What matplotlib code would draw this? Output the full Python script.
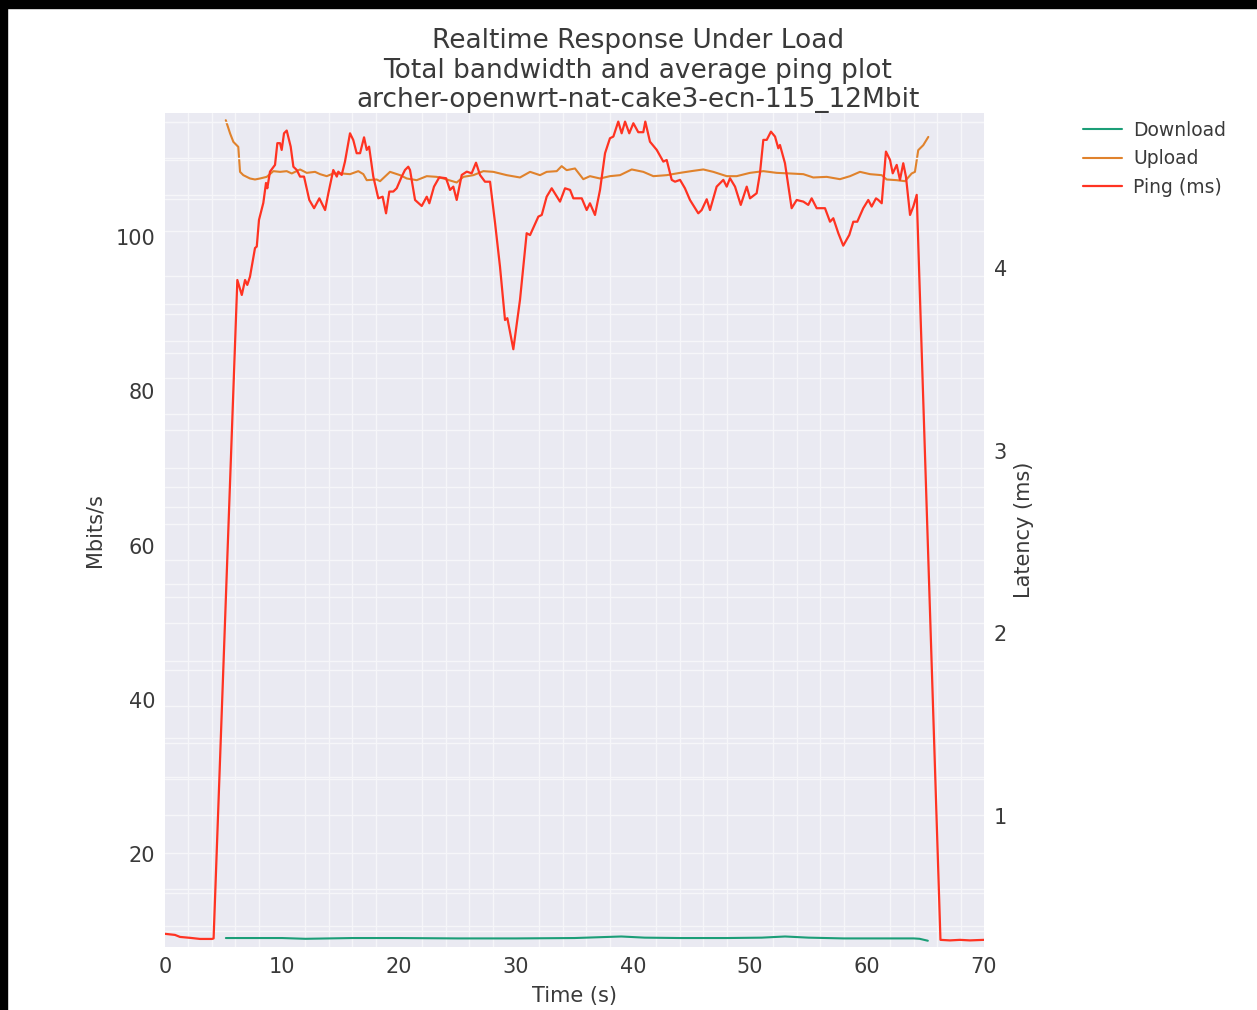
import matplotlib
matplotlib.use("Agg")
import matplotlib.pyplot as plt
import matplotlib.patches as mpatches
from matplotlib.ticker import MultipleLocator
import seaborn as sns

sns.set_style("darkgrid")
plt.rcParams['font.family'] = ['DejaVu Sans']

# ping samples (seconds, ms)
ping_t = [0.0, 0.85, 1.28, 2.14, 2.99, 4.02, 4.15,
          6.18, 6.56, 6.84, 7.03, 7.26, 7.69, 7.84, 8.03, 8.40, 8.63, 8.74, 8.97,
          9.40, 9.60, 9.83, 9.97, 10.17, 10.40, 10.74, 10.97, 11.26, 11.54, 11.88,
          12.33, 12.74, 13.19, 13.68, 13.96, 14.38, 14.68, 14.81, 15.10, 15.38,
          15.81, 16.09, 16.38, 16.67, 17.01, 17.24, 17.44, 17.80, 18.23, 18.60,
          18.89, 19.17, 19.51, 19.80, 20.23, 20.51, 20.79, 20.94, 21.37, 21.94,
          22.37, 22.59, 22.99, 23.44, 24.02, 24.36, 24.64, 24.93, 25.36, 25.79,
          26.21, 26.58, 26.92, 27.35, 27.78, 28.21, 28.63, 29.06, 29.26, 29.77,
          30.34, 30.91, 31.20, 31.91, 32.20, 32.62, 33.05, 33.76, 34.19, 34.62,
          34.90, 35.62, 36.04, 36.32, 36.75, 37.18, 37.61, 38.03, 38.32, 38.74,
          39.03, 39.32, 39.68, 40.03, 40.45, 40.88, 41.05, 41.45, 42.03, 42.59,
          42.88, 43.31, 43.59, 44.02, 44.44, 44.87, 45.58, 45.87, 46.30, 46.58,
          47.15, 47.72, 48.01, 48.29, 48.72, 49.21, 49.72, 50.00, 50.57, 50.85,
          51.14, 51.43, 51.79, 52.14, 52.42, 52.56, 52.99, 53.56, 53.99, 54.56,
          54.98, 55.27, 55.70, 56.41, 56.84, 57.12, 57.55, 57.97, 58.49, 58.83,
          59.17, 59.68, 60.11, 60.40, 60.77, 60.97, 61.26, 61.62, 61.97, 62.20,
          62.54, 62.82, 63.10, 63.33, 63.68, 63.96, 64.25,
          66.28, 67.09, 67.95, 68.80, 70.0]
ping_ms = [0.355, 0.349, 0.338, 0.333, 0.327, 0.327, 0.330,
           3.934, 3.852, 3.934, 3.907, 3.952, 4.109, 4.117, 4.263, 4.356, 4.465, 4.436, 4.527,
           4.564, 4.683, 4.683, 4.646, 4.737, 4.752, 4.664, 4.554, 4.536, 4.500, 4.500,
           4.372, 4.327, 4.381, 4.317, 4.409, 4.536, 4.500, 4.527, 4.509, 4.582,
           4.737, 4.700, 4.628, 4.628, 4.715, 4.646, 4.664, 4.500, 4.381, 4.390,
           4.299, 4.418, 4.418, 4.436, 4.500, 4.536, 4.554, 4.536, 4.372, 4.339,
           4.390, 4.354, 4.445, 4.496, 4.491, 4.427, 4.445, 4.372, 4.509, 4.527,
           4.518, 4.576, 4.509, 4.472, 4.472, 4.245, 4.007, 3.715, 3.725, 3.555,
           3.825, 4.190, 4.180, 4.281, 4.290, 4.390, 4.436, 4.363, 4.436, 4.427,
           4.381, 4.381, 4.317, 4.354, 4.290, 4.427, 4.628, 4.710, 4.719, 4.801,
           4.737, 4.801, 4.737, 4.792, 4.743, 4.743, 4.801, 4.691, 4.646, 4.582,
           4.591, 4.482, 4.472, 4.482, 4.436, 4.372, 4.299, 4.317, 4.376, 4.317,
           4.445, 4.482, 4.445, 4.491, 4.445, 4.345, 4.445, 4.381, 4.409, 4.518,
           4.701, 4.701, 4.746, 4.719, 4.655, 4.673, 4.573, 4.327, 4.372, 4.363,
           4.345, 4.381, 4.327, 4.327, 4.253, 4.272, 4.190, 4.122, 4.181, 4.253,
           4.253, 4.327, 4.372, 4.336, 4.381, 4.372, 4.354, 4.637, 4.591, 4.518,
           4.564, 4.482, 4.573, 4.500, 4.290, 4.336, 4.400,
           0.322, 0.319, 0.322, 0.319, 0.322]

# upload throughput (seconds, Mbit/s)
up_t = [5.19, 5.56, 5.84, 6.26, 6.41, 6.69, 7.26, 7.69, 8.12, 8.69, 9.26, 9.83,
        10.40, 10.83, 11.54, 12.11, 12.82, 13.25, 13.82, 14.38, 15.10, 15.81,
        16.52, 16.95, 17.24, 18.09, 18.38, 19.23, 20.09, 20.66, 21.51, 22.37,
        23.22, 23.79, 24.93, 25.50, 26.35, 27.21, 28.06, 29.21, 30.34, 31.20,
        32.05, 32.62, 33.48, 33.90, 34.33, 35.04, 35.75, 36.32, 37.18, 38.03,
        38.89, 39.89, 40.88, 41.74, 42.88, 44.02, 45.15, 46.01, 46.86, 48.01,
        48.86, 50.00, 51.14, 52.28, 53.42, 54.56, 55.41, 56.56, 57.69, 58.55,
        59.40, 60.26, 61.26, 61.68, 62.54, 63.25, 63.82, 64.10, 64.38, 64.81, 65.24]
up_mbit = [115.17, 113.45, 112.36, 111.71, 108.47, 108.04, 107.61, 107.48, 107.61,
           107.82, 108.56, 108.47, 108.56, 108.26, 108.78, 108.34, 108.47, 108.17,
           107.91, 108.26, 108.26, 108.17, 108.56, 108.17, 107.39, 107.48, 107.26,
           108.47, 108.04, 107.61, 107.39, 107.91, 107.82, 107.61, 107.09, 107.82,
           108.04, 108.56, 108.47, 108.04, 107.74, 108.47, 108.04, 108.47, 108.56,
           109.21, 108.69, 108.91, 107.52, 107.91, 107.61, 107.91, 108.04, 108.78,
           108.47, 107.91, 108.04, 108.34, 108.60, 108.78, 108.47, 107.91, 107.91,
           108.34, 108.56, 108.34, 108.26, 108.17, 107.74, 107.82, 107.52, 107.91,
           108.47, 108.17, 108.04, 107.48, 107.39, 107.26, 108.26, 108.47, 111.28,
           111.93, 113.00]

# download throughput (seconds, Mbit/s)
down_t = [5.2, 8, 10, 12, 14, 16, 20, 25, 30, 35, 37, 39, 41, 44, 48, 51, 53, 55,
          58, 61, 64, 64.5, 65.2]
down_mbit = [9.1, 9.1, 9.1, 9.0, 9.05, 9.1, 9.1, 9.05, 9.05, 9.1, 9.2, 9.3, 9.15,
             9.1, 9.1, 9.15, 9.3, 9.15, 9.05, 9.05, 9.05, 9.0, 8.75]

text_col = '#3a3a3a'

fig = plt.figure(figsize=(12.57, 10.10), dpi=100)
ax = fig.add_axes([0.1313, 0.0624, 0.6515, 0.8257])
ax2 = ax.twinx()

l_down, = ax.plot(down_t, down_mbit, color='#1b9e77', lw=1.5, label='Download')
l_up, = ax.plot(up_t, up_mbit, color='#e0822c', lw=1.5, label='Upload')
l_ping, = ax2.plot(ping_t, ping_ms, color='#ff3322', lw=1.6, label='Ping (ms)')

ax.set_xlim(0, 70)
ax.set_ylim(7.94, 116.1)
ax2.set_ylim(0.283, 4.848)

ax.xaxis.set_major_locator(MultipleLocator(10))
ax.xaxis.set_minor_locator(MultipleLocator(2))
ax.yaxis.set_major_locator(MultipleLocator(20))
ax.yaxis.set_minor_locator(MultipleLocator(5))
ax2.yaxis.set_major_locator(MultipleLocator(1))
ax2.yaxis.set_minor_locator(MultipleLocator(0.2))

# only the minor grid is shown
for a in (ax, ax2):
    a.grid(False, which='major')
    a.grid(True, which='minor', color='#f6f6f9', lw=1.0)
    for s in a.spines.values():
        s.set_visible(False)
    a.tick_params(which='both', length=0, labelsize=15, colors=text_col, pad=7)
ax2.grid(False, which='minor', axis='x')

ax.set_xlabel('Time (s)', fontsize=15, color=text_col, labelpad=7)
ax.set_ylabel('Mbits/s', fontsize=15, color=text_col, labelpad=8)
ax2.set_ylabel('Latency (ms)', fontsize=15, color=text_col, labelpad=5)

fig.text(0.5076, 0.930,
         'Realtime Response Under Load\nTotal bandwidth and average ping plot\n'
         'archer-openwrt-nat-cake3-ecn-115_12Mbit',
         ha='center', va='center', fontsize=19, color=text_col, linespacing=1.16)

fig.legend(handles=[l_down, l_up, l_ping], loc='upper left',
           bbox_to_anchor=(0.848, 0.897), frameon=False, fontsize=13.5,
           handlelength=2.1, handletextpad=0.6, labelspacing=0.5,
           labelcolor=text_col)

# black screen edges
fig.patches.append(mpatches.Rectangle((0, 1 - 8 / 1010), 1, 8 / 1010,
                                      transform=fig.transFigure, color='black'))
fig.patches.append(mpatches.Rectangle((0, 0), 7 / 1257, 1,
                                      transform=fig.transFigure, color='black'))

fig.savefig('out.png', dpi=100)
